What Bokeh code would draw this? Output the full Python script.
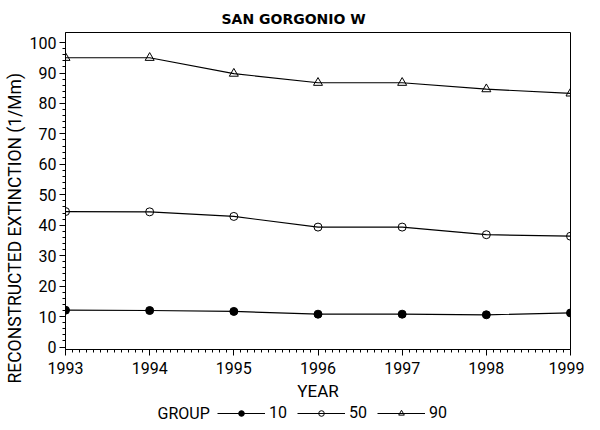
from bokeh.plotting import figure
from bokeh.models import Legend, LegendItem, Range1d, FixedTicker, Label, Title
from bokeh.layouts import column
from bokeh.embed import file_html
from bokeh.resources import INLINE

years = [1993, 1994, 1995, 1996, 1997, 1998, 1999]
group_10 = [12.1, 12.0, 11.7, 10.8, 10.8, 10.6, 11.2]
group_50 = [44.5, 44.4, 42.9, 39.4, 39.4, 36.9, 36.4]
group_90 = [95.0, 95.0, 89.8, 86.8, 86.8, 84.7, 83.3]
group_labels = ["10", "50", "90"]
x_ticks = [1993, 1994, 1995, 1996, 1997, 1998, 1999]
y_ticks = [0, 10, 20, 30, 40, 50, 60, 70, 80, 90, 100]
title_text = "SAN GORGONIO W"
x_label = "YEAR"
y_label = "RECONSTRUCTED EXTINCTION (1/Mm)"
legend_title = "GROUP"

FONT = "Roboto"

p = figure(width=584, height=403, output_backend="svg", toolbar_location=None,
           x_range=Range1d(1993, 1999), y_range=Range1d(-0.8, 103.3),
           min_border_left=58, min_border_right=14, min_border_top=32,
           min_border_bottom=40)

p.title.text = title_text
p.title.align = "left"
p.title.offset = 156
p.title.text_font = "DejaVu Sans"
p.title.text_font_size = "14px"
p.title.text_font_style = "bold"
p.title.text_color = "black"
p.title.standoff = 12

p.xgrid.visible = False
p.ygrid.visible = False
p.outline_line_color = "black"
p.outline_line_width = 1

for ax in (p.xaxis[0], p.yaxis[0]):
    ax.axis_line_color = "black"
    ax.major_tick_line_color = "black"
    ax.minor_tick_line_color = "black"
    ax.major_tick_in = 0
    ax.minor_tick_in = 0
    ax.major_tick_out = 6
    ax.minor_tick_out = 3
    ax.major_label_text_font = FONT
    ax.major_label_text_font_size = "16px"
    ax.major_label_text_color = "black"
    ax.axis_label_text_font = FONT
    ax.axis_label_text_font_size = "17px"
    ax.axis_label_text_font_style = "normal"
    ax.axis_label_text_color = "black"

p.xaxis[0].ticker = FixedTicker(ticks=x_ticks,
                                minor_ticks=[y + m / 12 for y in x_ticks[:-1] for m in range(1, 12)])
p.yaxis[0].ticker = FixedTicker(ticks=y_ticks,
                                minor_ticks=[t + m * 2 for t in y_ticks[:-1] for m in range(1, 5)])
p.xaxis[0].axis_label = x_label
p.xaxis[0].major_label_standoff = 6
p.xaxis[0].axis_label_standoff = 4
p.yaxis[0].major_label_standoff = 3

ytitle = Title(text=y_label, align="left", offset=-34, text_font=FONT,
               text_font_size="17.5px", text_font_style="normal", text_color="black",
               standoff=4)
p.add_layout(ytitle, "left")

# legend strip below the chart
lg = figure(width=584, height=19, output_backend="svg", toolbar_location=None,
            x_range=Range1d(0, 1), y_range=Range1d(0, 1),
            x_axis_location=None, y_axis_location=None,
            min_border_left=0, min_border_right=0, min_border_top=0, min_border_bottom=0)
lg.xgrid.visible = False
lg.ygrid.visible = False
lg.outline_line_color = None

items = []
styles = [
    (group_10, "circle", "black"),
    (group_50, "circle", None),
    (group_90, "triangle", None),
]
for (vals, marker, fill), lab in zip(styles, group_labels):
    kw = dict(marker=marker, size=8 if marker == "circle" else 9,
              line_color="black", line_width=1,
              fill_color=fill if fill else "white",
              fill_alpha=1.0 if fill else 0.0)
    p.line(years, vals, line_color="black", line_width=1.2)
    p.scatter(years, vals, **kw)
    # same series on the legend strip (outside its visible range) for legend glyphs
    ln = lg.line(years, vals, line_color="black", line_width=1.2)
    sc = lg.scatter(years, vals, **kw)
    items.append(LegendItem(label=lab, renderers=[ln, sc]))

legend = Legend(items=items, orientation="horizontal", location=(152, 0),
                glyph_width=48, glyph_height=14, spacing=8, padding=0, margin=0,
                label_standoff=4, border_line_alpha=0, background_fill_alpha=0,
                label_text_font=FONT, label_text_font_size="16px",
                label_text_color="black", label_height=14)
lg.add_layout(legend)

group_label = Label(x=92, y=9.5, x_units="screen", y_units="screen",
                    text=legend_title, text_font=FONT, text_font_size="16px",
                    text_color="black", text_baseline="middle", text_align="left")
lg.add_layout(group_label)

layout = column(p, lg, spacing=0)
open("out.html", "w").write(file_html(layout, INLINE))
